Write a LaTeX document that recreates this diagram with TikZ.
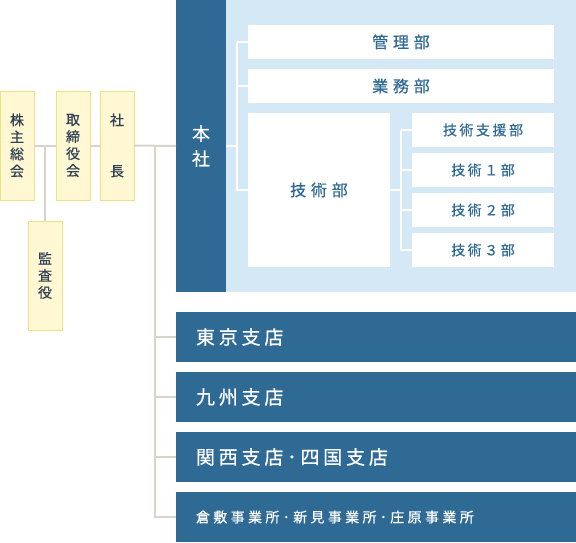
\documentclass[tikz,border=0pt]{standalone}
\usepackage{fontspec}
\newfontfamily\jp[FakeBold=0.6]{Noto Sans CJK JP}

\definecolor{honshablue}{HTML}{2F6A95}
\definecolor{paleblue}{HTML}{D4E8F6}
\definecolor{paleyellow}{HTML}{FFF8D2}
\definecolor{yellowline}{HTML}{F0DF85}
\definecolor{greyline}{HTML}{D8D4CC}
\definecolor{slatetext}{HTML}{2E4156}

\tikzset{
  yellowbox/.style={draw=yellowline, fill=paleyellow, text=slatetext,
    minimum width=34, minimum height=109, inner sep=0, outer sep=0, align=center,
    font={\jp\fontsize{14}{17}\selectfont}},
  deptbox/.style={fill=white, text=honshablue, inner sep=0, outer sep=0,
    minimum width=306, minimum height=34,
    font={\jp\fontsize{16}{20}\selectfont\addfontfeature{LetterSpace=30}}},
  subbox/.style={deptbox, minimum width=142,
    font={\jp\fontsize{14}{18}\selectfont\addfontfeature{LetterSpace=18}}},
  branchbox/.style={fill=honshablue, text=white, anchor=west, inner ysep=0, inner xsep=20,
    outer sep=0, text width=360, align=left, minimum height=50,
    font={\jp\fontsize{19}{22}\selectfont\addfontfeature{LetterSpace=20}}},
  greyconn/.style={draw=greyline, line width=2},
  whiteconn/.style={draw=white, line width=2}
}

\begin{document}
\begin{tikzpicture}[x=1pt, y=-1pt]
  \useasboundingbox (0,0) rectangle (576,542);

  % board and head office
  \node[yellowbox] (kabunushi) at (17,145.5) {株\\主\\総\\会};
  \node[yellowbox] (torishimari) at (73,145.5) {取\\締\\役\\会};
  \node[yellowbox] (shacho) at (117,145.5) {社\\[34pt]長};
  \node[yellowbox] (kansa) at (45,275.5) {監\\査\\役};

  \fill[paleblue] (226,0) rectangle (576,292);
  \node[fill=honshablue, text=white, minimum width=50, minimum height=292, inner sep=0, outer sep=0,
    align=center, font={\jp\fontsize{18}{25}\selectfont}] (honsha) at (201,146) {本\\社};

  \node[deptbox] (kanri) at (401,42) {管理部};
  \node[deptbox] (gyomu) at (401,86) {業務部};
  \node[deptbox, minimum width=142, minimum height=154] (gijutsu) at (319,190) {技術部};
  \node[subbox] (shien) at (483,130) {技術支援部};
  \node[subbox] (gijutsu1) at (483,170) {技術１部};
  \node[subbox] (gijutsu2) at (483,210) {技術２部};
  \node[subbox] (gijutsu3) at (483,250) {技術３部};

  % branches
  \node[branchbox] (tokyo) at (176,337) {東京支店};
  \node[branchbox] (kyushu) at (176,397) {九州支店};
  \node[branchbox] (kansai) at (176,457) {関西支店･四国支店};
  \node[branchbox, font={\jp\fontsize{14}{18}\selectfont\addfontfeature{LetterSpace=24}}]
    (kurashiki) at (176,517) {倉敷事業所･新見事業所･庄原事業所};

  % grey lines
  \draw[greyconn] (kabunushi.east) -- (torishimari.west);
  \draw[greyconn] (torishimari.east) -- (shacho.west);
  \draw[greyconn] (shacho.east) -- (honsha.west);
  \draw[greyconn] (kansa.north |- kabunushi.east) -- (kansa.north);
  \coordinate (trunk) at (155,146);
  \draw[greyconn] (trunk) |- (kurashiki.west);
  \foreach \br in {tokyo,kyushu,kansai}
    \draw[greyconn] (trunk |- \br.west) -- (\br.west);

  % white lines
  \draw[whiteconn] (honsha.east) -- ++(11,0) coordinate (hq);
  \draw[whiteconn] (hq |- kanri.west) -- (kanri.west);
  \draw[whiteconn] (hq |- kanri.west) -- (hq |- gijutsu.west) -- (gijutsu.west);
  \draw[whiteconn] (hq |- gyomu.west) -- (gyomu.west);
  \draw[whiteconn] (gijutsu.east) -- ++(11,0) coordinate (gq);
  \draw[whiteconn] (gq |- shien.west) -- (gq |- gijutsu3.west);
  \foreach \sb in {shien,gijutsu1,gijutsu2,gijutsu3}
    \draw[whiteconn] (gq |- \sb.west) -- (\sb.west);
\end{tikzpicture}
\end{document}
